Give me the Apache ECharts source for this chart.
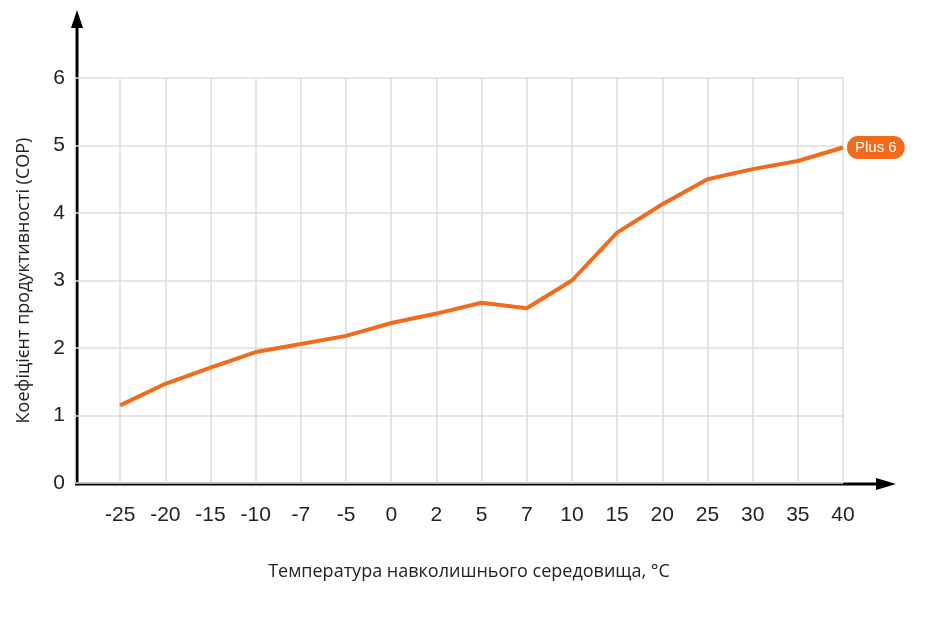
<!DOCTYPE html>
<html><head><meta charset="utf-8">
<script src="https://cdn.jsdelivr.net/npm/echarts@6/dist/echarts.min.js"></script>
<style>html,body{margin:0;background:#fff}#c{width:926px;height:620px}</style>
</head><body><div id="c"></div>
<script>
const categories = ['-25','-20','-15','-10','-7','-5','0','2','5','7','10','15','20','25','30','35','40'];
const copValues = [1.15,1.47,1.71,1.94,2.06,2.18,2.37,2.51,2.67,2.59,3.0,3.71,4.13,4.5,4.65,4.77,4.97];
const seriesName = 'Plus 6';
const chart = echarts.init(document.getElementById('c'));
chart.setOption({
  animation:false,
  grid:{left:75,right:83,top:78,bottom:137},
  xAxis:{type:'value',min:-1,max:16,interval:1,
    axisLine:{show:false},axisTick:{show:false},
    splitLine:{lineStyle:{color:'#dcdcdc',width:1.5}},
    axisLabel:{formatter:v=>categories[v]!==undefined?categories[v]:'',fontSize:21,color:'#222',margin:22,fontFamily:'Liberation Sans'},
    name:'Температура навколишнього середовища, °C',nameLocation:'middle',nameGap:80,
    nameTextStyle:{fontSize:18,color:'#222',fontFamily:'Open Sans',padding:[0,0,0,20]}},
  yAxis:{type:'value',min:0,max:6,interval:1,
    axisLine:{show:false},axisTick:{show:false},
    splitLine:{lineStyle:{color:'#dcdcdc',width:1.5}},
    axisLabel:{fontSize:21,color:'#222',margin:10,fontFamily:'Liberation Sans'},
    name:'Коефіцієнт продуктивності (COP)',nameLocation:'middle',nameGap:42,
    nameTextStyle:{fontSize:18,color:'#222',fontFamily:'Open Sans'}},
  graphic:[
    {type:'line',shape:{x1:77,y1:484,x2:77,y2:22},style:{stroke:'#000',lineWidth:3}},
    {type:'polygon',shape:{points:[[71,28],[83,28],[77,10]]},style:{fill:'#000'}},
    {type:'line',shape:{x1:75,y1:484,x2:880,y2:484},style:{stroke:'#000',lineWidth:3}},
    {type:'polygon',shape:{points:[[876,478],[876,490],[896,484]]},style:{fill:'#000'}}
  ],
  series:[{type:'line',name:seriesName,data:copValues.map((v,i)=>[i,v]),
    symbol:'none',lineStyle:{color:'#f26b1d',width:4},
    endLabel:{show:true,formatter:seriesName,color:'#fff',backgroundColor:'#f26b1d',
      borderRadius:11,padding:[4,8],fontSize:15,distance:4,fontFamily:'Liberation Sans'}}]
});
</script></body></html>
